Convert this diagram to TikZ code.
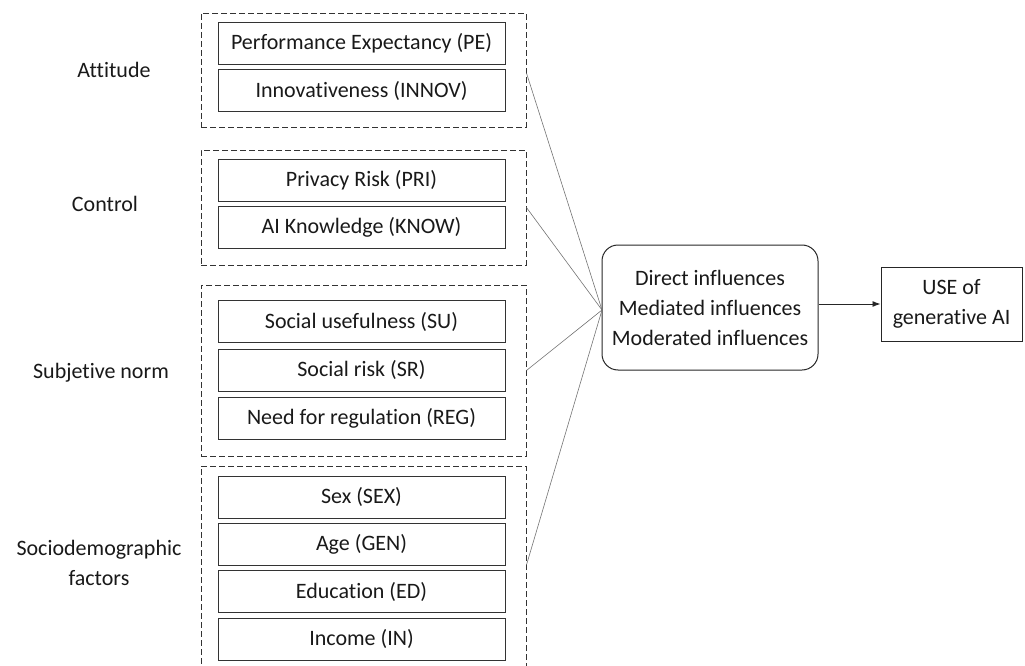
\documentclass[tikz,border=0pt]{standalone}
\usepackage{fontspec}
\setmainfont{Carlito}[Ligatures=NoCommon]
\usetikzlibrary{arrows.meta}
\begin{document}
\begin{tikzpicture}[x=1pt,y=-1pt,
  every node/.style={font=\fontsize{22}{30}\selectfont, text=black!90},
  item/.style={draw=black!80, line width=0.9pt, minimum width=287pt, minimum height=42pt, inner sep=0pt, anchor=center},
  grp/.style={draw=black!80, line width=0.9pt, dash pattern=on 6pt off 3pt, inner sep=0pt},
  lbl/.style={align=center, inner sep=0pt},
  conn/.style={draw=black!55, line width=0.6pt},
  mid/.style={draw=black!85, line width=1pt, rounded corners=16pt, minimum width=216pt, minimum height=125pt, align=center, inner sep=0pt},
  usebox/.style={draw=black!85, line width=1pt, minimum width=141pt, minimum height=74pt, align=center, inner sep=0pt}
]
\useasboundingbox (0,0) rectangle (1025,666);
% groups
\node[grp, minimum width=325pt, minimum height=114pt] (g1) at (363.5,70) {};
\node[grp, minimum width=325pt, minimum height=115pt] (g2) at (363.5,207.5) {};
\node[grp, minimum width=325pt, minimum height=171pt] (g3) at (363.5,370.5) {};
\node[grp, minimum width=325pt, minimum height=202pt] (g4) at (363.5,567) {};
% items
\node[item] (pe) at (361.5,43.5) {Performance Expectancy (PE)};
\node[item] (innov) at (361.5,90.5) {Innovativeness (INNOV)};
\node[item] (pri) at (361.5,180.5) {Privacy Risk (PRI)};
\node[item] (know) at (361.5,227.5) {AI Knowledge (KNOW)};
\node[item] (su) at (361.5,321.5) {Social usefulness (SU)};
\node[item] (sr) at (361.5,370) {Social risk (SR)};
\node[item] (reg) at (361.5,418) {Need for regulation (REG)};
\node[item] (sex) at (361.5,497) {Sex (SEX)};
\node[item] (gen) at (361.5,544) {Age (GEN)};
\node[item] (ed) at (361.5,591.5) {Education (ED)};
\node[item] (in) at (361.5,639) {Income (IN)};
% left labels
\node[lbl] (l1) at (114,70) {Attitude};
\node[lbl] (l2) at (105,204) {Control};
\node[lbl] (l3) at (101,373) {Subjetive norm};
\node[lbl] (l4) at (99,563) {Sociodemographic\\factors};
% center and output
\node[mid] (m) at (710,307.5) {Direct influences\\Mediated influences\\Moderated influences};
\node[usebox] (use) at (951.5,304) {USE of\\generative AI};
% connectors
\coordinate (conv) at (602,310);
\draw[conn] ([yshift=-3pt]g1.east) -- (conv);
\draw[conn] (g2.east) -- (conv);
\draw[conn] (g3.east) -- (conv);
\draw[conn] ([yshift=2pt]g4.east) -- (conv);
\draw[black!85, line width=0.9pt, -{Latex[length=8pt,width=6pt]}] (m.east |- use.west) -- (use.west);
\end{tikzpicture}
\end{document}
